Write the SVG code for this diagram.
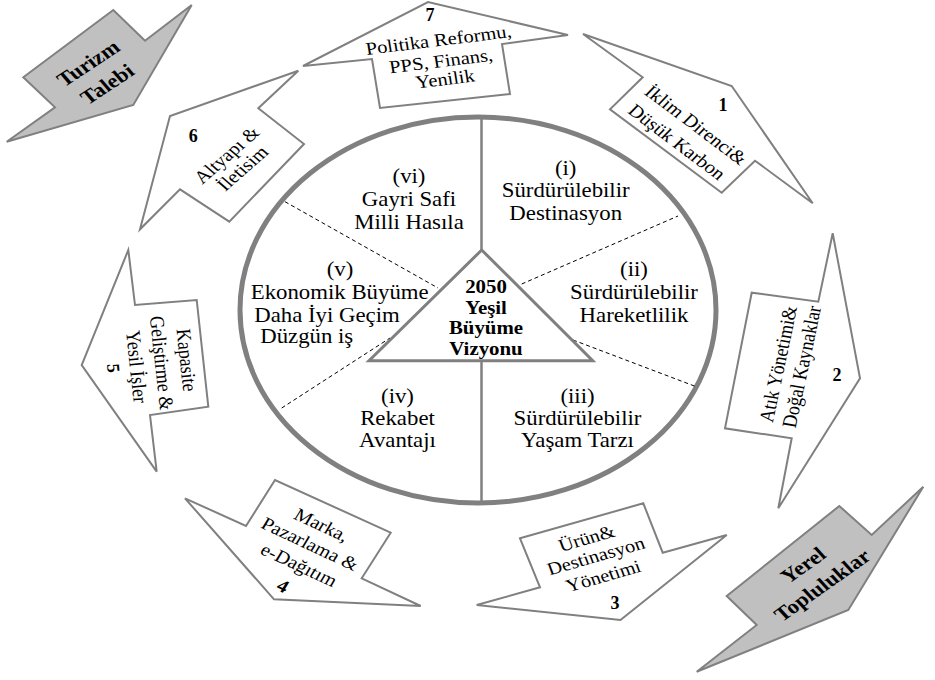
<svg xmlns="http://www.w3.org/2000/svg" width="935" height="680" viewBox="0 0 935 680">
  <style>
    text { font-family: "Liberation Serif", "Times New Roman", serif; fill: #000; text-anchor: middle; }
    .t { font-size: 20px; }
    .a { font-size: 18px; }
    .num { font-size: 18px; font-weight: bold; }
    .ctr { font-size: 18px; font-weight: bold; }
    .gb { font-size: 20px; font-weight: bold; }
    .arrow { fill: #fff; stroke: #808080; stroke-width: 2; stroke-linejoin: miter; }
    .grey { fill: #c0c0c0; stroke: #808080; stroke-width: 2; }
    .ring { fill: #fff; stroke: #808080; stroke-width: 5; }
    .split { stroke: #808080; stroke-width: 2.5; }
    .dash { stroke: #000; stroke-width: 1; stroke-dasharray: 4 3; }
    .tri { fill: #fff; stroke: #808080; stroke-width: 3; stroke-linejoin: miter; }
  </style>

  <!-- Outer drivers -->
  <g id="turizm-talebi">
    <polygon class="grey" points="23.3,77.3 113.3,10 145,40.7 191.7,5 133.3,105 6.7,141.7 55,107.3"/>
    <text class="gb" transform="translate(88 63) scale(1.14 1) rotate(-37)" y="7">Turizm</text>
    <text class="gb" transform="translate(107 84) scale(1.14 1) rotate(-37)" y="7">Talebi</text>
  </g>

  <g id="yerel-topluluklar">
    <polygon class="grey" points="726.7,596 839.3,506 871.7,535 923.3,486.7 848.3,610 696.7,671.7 756.7,625"/>
    <text class="gb" transform="translate(803 565) scale(1.14 1) rotate(-39)" y="7">Yerel</text>
    <text class="gb" transform="translate(822 585) scale(1.14 1) rotate(-39)" y="7">Topluluklar</text>
  </g>

  <!-- Action areas around the ring -->
  <g id="arrow-7">
    <polygon class="arrow" points="303,66 428,2 568,35 502,44 510,94 380,108 372,59"/>
    <text class="num" x="430" y="21">7</text>
    <text class="a" transform="translate(438.5 40) scale(1.14 1) rotate(-8)" y="6">Politika Reformu,</text>
    <text class="a" transform="translate(441 61) scale(1.14 1) rotate(-8)" y="6">PPS, Finans,</text>
    <text class="a" transform="translate(445 79) scale(1.14 1) rotate(-8)" y="6">Yenilik</text>
  </g>

  <g id="arrow-1">
    <polygon class="arrow" points="583,34 731.7,86 812.7,203.3 755,160.7 721.7,192.7 610,109.3 642.7,77.3"/>
    <text class="num" x="723" y="111">1</text>
    <text class="a" transform="translate(696 125) scale(1.14 1) rotate(40.5)" y="6">İklim Direnci&amp;</text>
    <text class="a" transform="translate(677 142) scale(1.14 1) rotate(40.5)" y="6">Düşük Karbon</text>
  </g>

  <g id="arrow-2">
    <polygon class="arrow" points="832.7,233.3 860,378.3 778.3,508.3 791.7,438.3 725,428.3 751.7,292.7 818.3,301.7"/>
    <text class="num" x="837" y="381">2</text>
    <text class="a" transform="translate(778.3 364) scale(1.14 1) rotate(-79.5)" y="6">Atık Yönetimi&amp;</text>
    <text class="a" transform="translate(801.7 366.7) scale(1.14 1) rotate(-79.5)" y="6">Doğal Kaynaklar</text>
  </g>

  <g id="arrow-3">
    <polygon class="arrow" points="520,538.3 643.3,503.3 662.7,552.7 726.7,535 620.5,620 476.7,605 540,587.3"/>
    <text class="num" x="615" y="609">3</text>
    <text class="a" transform="translate(586.7 538.3) scale(1.14 1) rotate(-18)" y="6">Ürün&amp;</text>
    <text class="a" transform="translate(595.8 556) scale(1.14 1) rotate(-18)" y="6">Destinasyon</text>
    <text class="a" transform="translate(603.3 576) scale(1.14 1) rotate(-18)" y="6">Yönetimi</text>
  </g>

  <g id="arrow-4">
    <polygon class="arrow" points="185,498.3 246,526 275,480 390.7,532.7 361.7,578.3 420.7,606 274,599.3"/>
    <text class="num" transform="translate(283 586) scale(1.14 1) rotate(28)" y="6">4</text>
    <text class="a" transform="translate(321.7 525) scale(1.14 1) rotate(28)" y="6">Marka,</text>
    <text class="a" transform="translate(310 544) scale(1.14 1) rotate(28)" y="6">Pazarlama &amp;</text>
    <text class="a" transform="translate(299 565) scale(1.14 1) rotate(28)" y="6">e-Dağıtım</text>
  </g>

  <g id="arrow-5">
    <polygon class="arrow" points="128.3,250 135,305 196.7,300 208.3,406.7 150,415 156.7,471.7 81.7,365"/>
    <text class="num" transform="translate(113.3 368.3) rotate(85)" y="6">5</text>
    <text class="a" transform="translate(186.7 360) scale(1.14 1) rotate(84.5)" y="6">Kapasite</text>
    <text class="a" transform="translate(161.7 363) scale(1.14 1) rotate(84.5)" y="6">Geliştirme &amp;</text>
    <text class="a" transform="translate(136.7 366.7) scale(1.14 1) rotate(84.5)" y="6">Yesil İşler</text>
  </g>

  <g id="arrow-6">
    <polygon class="arrow" points="140,229.3 170,116 298.3,70.7 258.3,108.3 304,144 229.3,221.7 180,189.3"/>
    <text class="num" x="193.3" y="142">6</text>
    <text class="a" transform="translate(226.7 155) scale(1.14 1) rotate(-45)" y="6">Altyapı &amp;</text>
    <text class="a" transform="translate(242.5 168.3) scale(1.14 1) rotate(-45)" y="6">İletisim</text>
  </g>

  <!-- Central vision ring -->
  <g id="ring">
    <ellipse class="ring" cx="478" cy="310" rx="238" ry="193"/>
  </g>

  <g id="dividers">
    <line class="split" x1="481.5" y1="117" x2="481.5" y2="250"/>
    <line class="split" x1="481.5" y1="361" x2="481.5" y2="504"/>
    <line class="dash" x1="285" y1="201.7" x2="438" y2="288"/>
    <line class="dash" x1="521.7" y1="284" x2="678" y2="216"/>
    <line class="dash" x1="573" y1="340" x2="697" y2="387"/>
    <line class="dash" x1="281.7" y1="408" x2="390" y2="338"/>
  </g>

  <g id="vision">
    <polygon class="tri" points="481.7,250 592.7,360.7 369,360.7"/>
    <g transform="translate(486 0) scale(1.16 1)">
      <text class="ctr" x="0" y="293">2050</text>
      <text class="ctr" x="0" y="314">Yeşil</text>
      <text class="ctr" x="0" y="334">Büyüme</text>
      <text class="ctr" x="0" y="355">Vizyonu</text>
    </g>
  </g>

  <g id="sector-i" transform="translate(565.7 0) scale(1.14 1)">
    <text class="t" x="0" y="175">(i)</text>
    <text class="t" x="0" y="197.5">Sürdürülebilir</text>
    <text class="t" x="0" y="220">Destinasyon</text>
  </g>

  <g id="sector-ii" transform="translate(634 0) scale(1.14 1)">
    <text class="t" x="0" y="276">(ii)</text>
    <text class="t" x="0" y="299">Sürdürülebilir</text>
    <text class="t" x="0" y="322">Hareketlilik</text>
  </g>

  <g id="sector-iii" transform="translate(577.5 0) scale(1.14 1)">
    <text class="t" x="0" y="403">(iii)</text>
    <text class="t" x="0" y="425">Sürdürülebilir</text>
    <text class="t" x="0" y="447">Yaşam Tarzı</text>
  </g>

  <g id="sector-iv" transform="translate(397.5 0) scale(1.14 1)">
    <text class="t" x="0" y="403">(iv)</text>
    <text class="t" x="0" y="425">Rekabet</text>
    <text class="t" x="0" y="447">Avantajı</text>
  </g>

  <g id="sector-v">
    <text class="t" transform="translate(340 0) scale(1.14 1)" y="276">(v)</text>
    <text class="t" transform="translate(339.7 0) scale(1.14 1)" y="299">Ekonomik Büyüme</text>
    <text class="t" transform="translate(327 0) scale(1.14 1)" y="322">Daha İyi Geçim</text>
    <text class="t" transform="translate(306.7 0) scale(1.14 1)" y="343.5">Düzgün iş</text>
  </g>

  <g id="sector-vi" transform="translate(409 0) scale(1.14 1)">
    <text class="t" x="0" y="183">(vi)</text>
    <text class="t" x="0" y="206.5">Gayri Safi</text>
    <text class="t" x="0" y="229.5">Milli Hasıla</text>
  </g>
</svg>
